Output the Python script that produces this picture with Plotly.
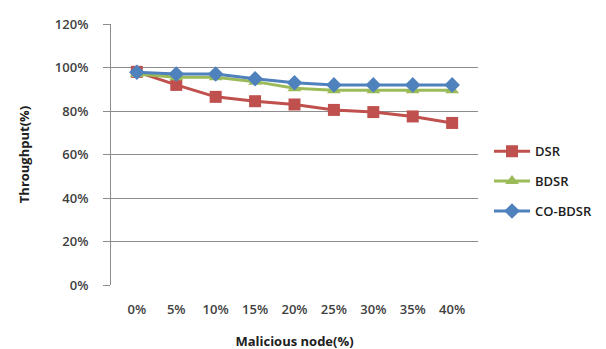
import plotly.graph_objects as go

categories = ["0%", "5%", "10%", "15%", "20%", "25%", "30%", "35%", "40%"]
dsr = [98, 92, 86.5, 84.5, 83, 80.5, 79.5, 77.5, 74.5]
bdsr = [97, 95.5, 95.5, 93.5, 90.5, 89.5, 89.5, 89.5, 89.5]
co_bdsr = [97.8, 97, 97, 94.8, 93, 92, 92, 92, 92]
y_ticks = [0, 20, 40, 60, 80, 100, 120]
y_tick_labels = ["0%", "20%", "40%", "60%", "80%", "100%", "120%"]

font_family = "Open Sans, Lato, sans-serif"

fig = go.Figure()
fig.add_trace(go.Scatter(x=categories, y=dsr, name="DSR", mode="lines+markers", legendgroup="a",
                         line=dict(color="#C0504D", width=3),
                         marker=dict(symbol="square", size=12, color="#C0504D")))
fig.add_trace(go.Scatter(x=categories, y=bdsr, name="BDSR", mode="lines+markers", legendgroup="b",
                         line=dict(color="#9BBB59", width=3),
                         marker=dict(symbol="triangle-up", size=12, color="#9BBB59")))
fig.add_trace(go.Scatter(x=categories, y=co_bdsr, name="CO-BDSR", mode="lines+markers", legendgroup="c",
                         line=dict(color="#4F81BD", width=3),
                         marker=dict(symbol="diamond", size=12, color="#4F81BD")))

fig.update_layout(
    width=606, height=349,
    margin=dict(l=103, r=136, t=16, b=72, autoexpand=False),
    paper_bgcolor="white", plot_bgcolor="white",
    font=dict(family=font_family, size=13, color="#404040"),
    legend=dict(x=1.03, y=0.57, xanchor="left", yanchor="top",
                font=dict(size=13, color="#202020", weight=600), tracegroupgap=10,
                itemwidth=36),
    showlegend=True,
)
fig.update_xaxes(
    type="category", showgrid=False, showline=False, ticks="",
    automargin=False, ticklabelstandoff=15,
    title=dict(text="<b>Malicious node(%)</b>", font=dict(size=13, color="#202020"), standoff=19),
    tickfont=dict(size=13, color="#404040", weight=600),
)
fig.update_yaxes(
    range=[0, 120], tickvals=y_ticks, ticktext=y_tick_labels,
    showgrid=True, gridcolor="#8C8C8C", gridwidth=1,
    showline=True, linecolor="#8C8C8C", linewidth=1,
    ticks="outside", ticklen=7, tickcolor="#8C8C8C",
    zeroline=False, automargin=False, ticklabelstandoff=12,
    title=dict(text="<b>Throughput(%)</b>", font=dict(size=13, color="#202020"), standoff=22),
    tickfont=dict(size=13, color="#404040", weight=600),
)

fig.write_html("out.html")
